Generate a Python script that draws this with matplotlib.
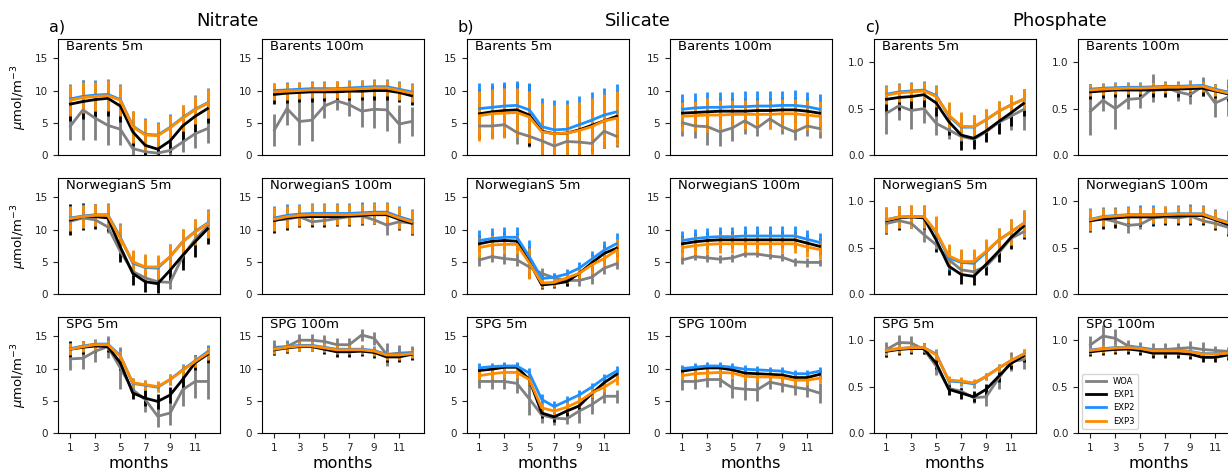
import matplotlib
matplotlib.use('Agg')
import matplotlib.pyplot as plt
from matplotlib.lines import Line2D
import numpy as np

months = np.arange(1, 13)

# ---------------- Nitrate ----------------
nit_bar5_woa = [4.5, 7.0, 5.7, 4.6, 4.0, 1.0, 0.5, 0.3, 0.7, 2.0, 3.3, 4.1]
nit_bar5_woa_sd = [2.2, 4.6, 3.4, 3.0, 2.5, 1.0, 0.5, 0.5, 0.8, 1.6, 2.2, 2.2]
nit_bar5_exp1 = [7.9, 8.3, 8.6, 8.8, 7.6, 3.6, 1.5, 0.9, 2.2, 4.5, 6.0, 7.2]
nit_bar5_exp1_sd = [2.6, 2.7, 2.7, 2.8, 2.5, 2.2, 1.5, 1.2, 1.8, 2.3, 2.5, 2.3]
nit_bar5_exp2 = [8.7, 9.1, 9.3, 9.4, 8.6, 4.5, 3.2, 3.1, 4.3, 5.8, 7.1, 8.1]
nit_bar5_exp2_sd = [2.3, 2.5, 2.4, 2.4, 2.4, 2.4, 2.6, 2.0, 2.0, 2.0, 2.2, 2.3]
nit_bar5_exp3 = [8.5, 8.9, 9.1, 9.2, 8.5, 4.4, 3.1, 3.0, 4.2, 5.7, 7.0, 8.0]
nit_bar5_exp3_sd = [2.4, 2.4, 2.3, 2.4, 2.4, 2.5, 2.5, 2.0, 2.0, 2.0, 2.2, 2.3]

nit_bar100_woa = [3.9, 7.2, 5.2, 5.4, 7.6, 8.4, 7.8, 6.8, 7.1, 7.0, 4.8, 5.2]
nit_bar100_woa_sd = [2.5, 2.6, 3.6, 3.3, 1.8, 1.4, 1.8, 2.5, 2.9, 3.3, 3.0, 2.3]
nit_bar100_exp1 = [9.4, 9.6, 9.7, 9.8, 9.8, 9.8, 9.9, 9.9, 10.0, 10.0, 9.7, 9.2]
nit_bar100_exp1_sd = [1.5, 1.5, 1.5, 1.5, 1.4, 1.4, 1.4, 1.4, 1.4, 1.4, 1.5, 1.5]
nit_bar100_exp2 = [10.0, 10.1, 10.2, 10.3, 10.3, 10.3, 10.4, 10.5, 10.6, 10.6, 10.2, 9.8]
nit_bar100_exp2_sd = [1.2, 1.2, 1.2, 1.2, 1.2, 1.2, 1.2, 1.2, 1.2, 1.2, 1.3, 1.3]
nit_bar100_exp3 = [9.8, 9.9, 10.0, 10.1, 10.1, 10.2, 10.2, 10.3, 10.4, 10.4, 10.0, 9.6]
nit_bar100_exp3_sd = [1.3, 1.3, 1.3, 1.3, 1.3, 1.3, 1.3, 1.3, 1.3, 1.3, 1.4, 1.4]

nit_nor5_woa = [11.3, 11.8, 11.5, 10.4, 6.6, 3.5, 2.5, 1.9, 1.8, 5.8, 8.5, 10.5]
nit_nor5_woa_sd = [0.8, 0.8, 0.8, 0.9, 1.2, 0.9, 0.8, 0.8, 1.0, 1.0, 0.9, 0.8]
nit_nor5_exp1 = [11.5, 12.0, 12.0, 11.8, 7.3, 3.2, 1.9, 1.6, 3.7, 6.0, 8.1, 10.1]
nit_nor5_exp1_sd = [2.4, 2.1, 1.9, 2.0, 2.3, 1.8, 1.6, 1.5, 1.9, 2.2, 2.3, 2.3]
nit_nor5_exp2 = [11.8, 12.1, 12.3, 12.3, 8.8, 4.8, 4.1, 4.0, 5.8, 8.1, 9.7, 11.0]
nit_nor5_exp2_sd = [1.9, 1.8, 1.7, 1.8, 2.2, 1.9, 2.0, 1.8, 1.9, 2.0, 2.0, 2.2]
nit_nor5_exp3 = [11.7, 12.0, 12.2, 12.2, 8.6, 5.0, 4.2, 4.2, 5.8, 8.1, 9.6, 10.9]
nit_nor5_exp3_sd = [1.9, 1.8, 1.7, 1.8, 2.2, 1.9, 2.0, 1.8, 1.9, 2.0, 2.0, 2.2]

nit_nor100_woa = [11.5, 11.6, 12.0, 11.2, 11.4, 11.7, 12.0, 12.1, 11.5, 10.7, 11.2, 11.0]
nit_nor100_woa_sd = [0.6, 0.6, 0.6, 0.7, 0.6, 0.5, 0.5, 0.5, 0.6, 1.5, 0.7, 0.6]
nit_nor100_exp1 = [11.4, 11.8, 12.0, 12.0, 12.0, 12.0, 12.1, 12.2, 12.3, 12.3, 11.6, 11.0]
nit_nor100_exp1_sd = [2.0, 1.8, 1.6, 1.6, 1.6, 1.5, 1.5, 1.5, 1.5, 1.5, 1.7, 1.8]
nit_nor100_exp2 = [11.8, 12.2, 12.4, 12.5, 12.5, 12.5, 12.5, 12.6, 12.7, 12.7, 12.0, 11.4]
nit_nor100_exp2_sd = [1.8, 1.7, 1.6, 1.6, 1.6, 1.6, 1.6, 1.6, 1.6, 1.6, 1.7, 1.8]
nit_nor100_exp3 = [11.6, 12.0, 12.2, 12.3, 12.3, 12.3, 12.3, 12.4, 12.5, 12.5, 11.8, 11.2]
nit_nor100_exp3_sd = [1.9, 1.7, 1.6, 1.6, 1.6, 1.6, 1.6, 1.6, 1.6, 1.6, 1.7, 1.9]

nit_spg5_woa = [11.5, 11.6, 12.7, 13.4, 10.1, 6.7, 5.2, 2.6, 3.1, 6.7, 8.0, 8.0]
nit_spg5_woa_sd = [1.7, 1.7, 1.7, 1.7, 3.2, 1.0, 2.0, 1.7, 1.8, 2.5, 2.5, 2.8]
nit_spg5_exp1 = [13.0, 13.3, 13.5, 13.4, 10.9, 6.2, 5.4, 4.9, 5.9, 8.3, 10.9, 12.2]
nit_spg5_exp1_sd = [1.2, 1.0, 0.9, 0.9, 1.2, 1.0, 1.2, 1.2, 1.3, 1.3, 1.2, 1.3]
nit_spg5_exp2 = [13.1, 13.5, 13.8, 13.8, 12.0, 7.7, 7.4, 7.1, 8.3, 9.8, 11.2, 12.6]
nit_spg5_exp2_sd = [0.9, 0.8, 0.8, 0.8, 0.9, 0.8, 0.8, 0.8, 0.9, 0.9, 0.9, 1.0]
nit_spg5_exp3 = [13.0, 13.4, 13.7, 13.7, 11.9, 7.8, 7.5, 7.2, 8.3, 9.7, 11.1, 12.4]
nit_spg5_exp3_sd = [0.9, 0.8, 0.8, 0.8, 0.9, 0.8, 0.8, 0.8, 0.9, 0.9, 0.9, 1.0]

nit_spg100_woa = [13.3, 13.4, 14.4, 14.4, 14.2, 13.7, 13.7, 15.2, 14.7, 12.2, 12.4, 12.5]
nit_spg100_woa_sd = [1.2, 1.0, 1.0, 1.0, 1.0, 1.0, 1.0, 1.0, 1.0, 1.8, 1.2, 1.0]
nit_spg100_exp1 = [12.9, 13.2, 13.4, 13.4, 13.0, 12.6, 12.6, 12.7, 12.5, 11.8, 11.8, 12.2]
nit_spg100_exp1_sd = [0.8, 0.8, 0.7, 0.7, 0.7, 0.8, 0.8, 0.8, 0.8, 0.8, 0.8, 0.8]
nit_spg100_exp2 = [13.1, 13.4, 13.6, 13.6, 13.3, 13.0, 13.0, 13.0, 12.8, 12.2, 12.2, 12.4]
nit_spg100_exp2_sd = [0.7, 0.7, 0.7, 0.7, 0.7, 0.7, 0.7, 0.7, 0.7, 0.7, 0.7, 0.7]
nit_spg100_exp3 = [13.0, 13.3, 13.5, 13.5, 13.2, 12.9, 12.9, 12.9, 12.7, 12.1, 12.1, 12.3]
nit_spg100_exp3_sd = [0.7, 0.7, 0.7, 0.7, 0.7, 0.7, 0.7, 0.7, 0.7, 0.7, 0.7, 0.7]

# ---------------- Silicate ----------------
sil_bar5_woa = [4.5, 4.5, 4.7, 3.5, 2.9, 2.2, 1.4, 2.1, 2.0, 1.8, 3.7, 2.9]
sil_bar5_woa_sd = [1.5, 1.5, 1.5, 1.8, 1.6, 1.2, 1.0, 1.2, 1.2, 1.2, 1.5, 1.6]
sil_bar5_exp1 = [6.4, 6.7, 6.9, 7.0, 6.2, 3.7, 3.3, 3.4, 3.9, 4.6, 5.3, 6.0]
sil_bar5_exp1_sd = [3.9, 4.0, 4.1, 4.1, 4.8, 4.0, 3.6, 3.6, 4.0, 4.2, 4.2, 4.1]
sil_bar5_exp2 = [7.2, 7.4, 7.6, 7.7, 7.0, 4.4, 3.9, 4.0, 4.7, 5.4, 6.2, 6.7]
sil_bar5_exp2_sd = [3.9, 3.8, 3.8, 3.8, 4.2, 4.5, 4.6, 4.6, 4.4, 4.3, 4.2, 4.3]
sil_bar5_exp3 = [6.1, 6.4, 6.5, 6.6, 5.9, 3.6, 3.3, 3.4, 3.8, 4.4, 5.3, 5.7]
sil_bar5_exp3_sd = [3.9, 3.9, 3.9, 3.8, 4.1, 4.5, 4.5, 4.5, 4.4, 4.4, 4.2, 4.2]

sil_bar100_woa = [5.0, 4.5, 4.4, 3.6, 4.2, 5.3, 4.2, 5.6, 4.4, 3.6, 4.5, 4.1]
sil_bar100_woa_sd = [2.0, 1.8, 2.8, 2.2, 2.0, 2.0, 1.2, 1.6, 1.2, 1.2, 1.5, 1.5]
sil_bar100_exp1 = [6.5, 6.6, 6.7, 6.8, 6.8, 6.8, 6.9, 6.9, 7.0, 7.0, 6.8, 6.5]
sil_bar100_exp1_sd = [2.0, 2.0, 2.0, 2.0, 2.0, 2.0, 2.0, 2.0, 2.0, 2.0, 2.0, 2.0]
sil_bar100_exp2 = [7.1, 7.3, 7.4, 7.4, 7.5, 7.5, 7.6, 7.6, 7.7, 7.7, 7.5, 7.1]
sil_bar100_exp2_sd = [2.3, 2.3, 2.4, 2.4, 2.3, 2.4, 2.3, 2.3, 2.3, 2.4, 2.3, 2.4]
sil_bar100_exp3 = [6.0, 6.1, 6.2, 6.2, 6.3, 6.3, 6.3, 6.3, 6.4, 6.4, 6.2, 6.0]
sil_bar100_exp3_sd = [2.3, 2.3, 2.6, 2.3, 2.3, 2.3, 2.3, 2.3, 2.3, 2.3, 2.3, 2.4]

sil_nor5_woa = [5.3, 5.8, 5.5, 5.3, 4.2, 3.2, 2.5, 2.1, 2.1, 2.6, 4.0, 4.7]
sil_nor5_woa_sd = [0.9, 0.8, 0.9, 1.0, 1.0, 0.9, 0.8, 0.8, 0.9, 1.0, 0.9, 0.8]
sil_nor5_exp1 = [7.8, 8.2, 8.3, 8.2, 5.0, 1.4, 1.6, 1.9, 3.2, 4.8, 6.3, 7.1]
sil_nor5_exp1_sd = [1.3, 1.3, 1.3, 1.3, 2.5, 0.6, 0.6, 0.7, 1.0, 1.3, 1.3, 1.4]
sil_nor5_exp2 = [8.3, 8.6, 8.8, 8.8, 5.8, 2.4, 2.6, 3.1, 4.0, 5.4, 6.8, 7.8]
sil_nor5_exp2_sd = [1.6, 1.6, 1.6, 1.6, 2.6, 0.7, 0.7, 0.8, 1.0, 1.2, 1.5, 1.6]
sil_nor5_exp3 = [7.2, 7.6, 7.7, 7.7, 4.8, 1.7, 1.8, 2.5, 3.2, 4.5, 5.5, 6.8]
sil_nor5_exp3_sd = [1.5, 1.5, 1.5, 1.5, 2.4, 0.7, 0.7, 0.8, 1.0, 1.4, 1.6, 1.8]

sil_nor100_woa = [5.3, 5.8, 5.6, 5.4, 5.6, 6.2, 6.2, 5.9, 5.7, 5.0, 4.9, 4.9]
sil_nor100_woa_sd = [0.6, 0.6, 0.6, 0.6, 0.6, 0.5, 0.5, 0.5, 0.6, 0.6, 0.7, 0.6]
sil_nor100_exp1 = [7.8, 8.1, 8.3, 8.4, 8.4, 8.4, 8.4, 8.4, 8.4, 8.4, 7.9, 7.4]
sil_nor100_exp1_sd = [1.3, 1.3, 1.3, 1.3, 1.3, 1.3, 1.3, 1.3, 1.3, 1.3, 1.3, 1.3]
sil_nor100_exp2 = [8.3, 8.6, 8.8, 8.9, 8.9, 9.0, 9.0, 9.0, 9.0, 9.0, 8.5, 8.0]
sil_nor100_exp2_sd = [1.5, 1.5, 1.5, 1.5, 1.5, 1.5, 1.5, 1.5, 1.5, 1.5, 1.5, 1.5]
sil_nor100_exp3 = [7.2, 7.5, 7.7, 7.8, 7.8, 7.8, 7.8, 7.8, 7.8, 7.8, 7.3, 6.9]
sil_nor100_exp3_sd = [1.5, 1.5, 1.5, 1.5, 1.5, 1.5, 1.5, 1.5, 1.5, 1.5, 1.5, 1.5]

sil_spg5_woa = [8.0, 8.0, 8.0, 7.7, 5.3, 2.8, 2.3, 2.2, 3.4, 4.4, 5.7, 5.7]
sil_spg5_woa_sd = [1.0, 1.2, 1.2, 1.5, 2.5, 1.2, 1.0, 0.8, 1.8, 1.5, 1.0, 1.0]
sil_spg5_exp1 = [9.7, 9.9, 10.2, 10.2, 8.3, 3.1, 2.5, 3.4, 4.2, 6.1, 7.8, 9.1]
sil_spg5_exp1_sd = [0.6, 0.6, 0.6, 0.6, 0.8, 0.8, 0.8, 0.7, 0.7, 0.7, 0.7, 0.7]
sil_spg5_exp2 = [10.1, 10.3, 10.4, 10.4, 9.3, 5.2, 4.1, 5.0, 5.9, 7.1, 8.5, 9.6]
sil_spg5_exp2_sd = [0.7, 0.6, 0.6, 0.6, 0.8, 0.8, 0.8, 0.7, 0.7, 0.7, 0.7, 0.8]
sil_spg5_exp3 = [8.9, 9.2, 9.4, 9.4, 8.3, 3.9, 3.4, 4.0, 4.9, 6.2, 7.1, 8.3]
sil_spg5_exp3_sd = [0.8, 0.8, 0.8, 0.8, 0.8, 0.8, 0.8, 0.8, 0.8, 0.8, 0.8, 0.8]

sil_spg100_woa = [8.0, 8.0, 8.3, 8.3, 7.0, 6.8, 6.7, 7.9, 7.5, 7.1, 6.8, 6.2]
sil_spg100_woa_sd = [1.3, 1.2, 1.1, 1.1, 1.5, 1.7, 1.7, 1.0, 1.2, 1.2, 1.2, 1.5]
sil_spg100_exp1 = [9.6, 9.9, 10.1, 10.1, 9.8, 9.3, 9.2, 9.1, 9.0, 8.6, 8.6, 9.1]
sil_spg100_exp1_sd = [0.6, 0.6, 0.6, 0.6, 0.6, 0.6, 0.6, 0.6, 0.6, 0.6, 0.6, 0.6]
sil_spg100_exp2 = [10.0, 10.2, 10.4, 10.4, 10.2, 9.9, 9.8, 9.7, 9.6, 9.2, 9.2, 9.6]
sil_spg100_exp2_sd = [0.6, 0.6, 0.6, 0.6, 0.6, 0.6, 0.6, 0.6, 0.6, 0.6, 0.6, 0.7]
sil_spg100_exp3 = [8.9, 9.2, 9.3, 9.4, 9.3, 8.8, 8.7, 8.7, 8.6, 8.2, 8.2, 8.5]
sil_spg100_exp3_sd = [0.8, 0.8, 0.8, 0.8, 0.8, 0.8, 0.8, 0.8, 0.8, 0.8, 0.8, 0.8]

# ---------------- Phosphate ----------------
pho_bar5_woa = [0.45, 0.53, 0.48, 0.50, 0.34, 0.27, 0.20, 0.17, 0.25, 0.35, 0.42, 0.49]
pho_bar5_woa_sd = [0.22, 0.15, 0.20, 0.15, 0.12, 0.10, 0.08, 0.06, 0.10, 0.10, 0.15, 0.22]
pho_bar5_exp1 = [0.60, 0.62, 0.63, 0.65, 0.56, 0.36, 0.215, 0.18, 0.26, 0.36, 0.455, 0.555]
pho_bar5_exp1_sd = [0.13, 0.13, 0.13, 0.13, 0.14, 0.14, 0.16, 0.12, 0.12, 0.13, 0.14, 0.14]
pho_bar5_exp2 = [0.655, 0.68, 0.69, 0.70, 0.64, 0.42, 0.30, 0.30, 0.38, 0.47, 0.54, 0.60]
pho_bar5_exp2_sd = [0.10, 0.10, 0.10, 0.10, 0.11, 0.14, 0.15, 0.13, 0.12, 0.11, 0.11, 0.11]
pho_bar5_exp3 = [0.645, 0.67, 0.68, 0.69, 0.63, 0.43, 0.31, 0.305, 0.38, 0.47, 0.54, 0.60]
pho_bar5_exp3_sd = [0.10, 0.10, 0.10, 0.10, 0.11, 0.14, 0.15, 0.13, 0.12, 0.11, 0.11, 0.11]

pho_bar100_woa = [0.47, 0.59, 0.50, 0.60, 0.61, 0.72, 0.73, 0.68, 0.65, 0.74, 0.56, 0.62]
pho_bar100_woa_sd = [0.25, 0.12, 0.22, 0.10, 0.10, 0.15, 0.06, 0.10, 0.10, 0.10, 0.15, 0.20]
pho_bar100_exp1 = [0.68, 0.69, 0.70, 0.70, 0.70, 0.70, 0.705, 0.71, 0.715, 0.72, 0.69, 0.66]
pho_bar100_exp1_sd = [0.08, 0.08, 0.08, 0.08, 0.08, 0.08, 0.08, 0.08, 0.08, 0.08, 0.08, 0.08]
pho_bar100_exp2 = [0.71, 0.72, 0.725, 0.73, 0.73, 0.735, 0.74, 0.74, 0.745, 0.75, 0.71, 0.68]
pho_bar100_exp2_sd = [0.06, 0.06, 0.06, 0.06, 0.06, 0.06, 0.06, 0.06, 0.06, 0.06, 0.06, 0.06]
pho_bar100_exp3 = [0.70, 0.71, 0.715, 0.72, 0.72, 0.725, 0.73, 0.73, 0.735, 0.74, 0.70, 0.67]
pho_bar100_exp3_sd = [0.06, 0.06, 0.06, 0.06, 0.06, 0.06, 0.06, 0.06, 0.06, 0.06, 0.06, 0.06]

pho_nor5_woa = [0.76, 0.79, 0.76, 0.64, 0.53, 0.37, 0.26, 0.24, 0.30, 0.44, 0.60, 0.67]
pho_nor5_woa_sd = [0.04, 0.04, 0.04, 0.08, 0.05, 0.04, 0.04, 0.04, 0.04, 0.04, 0.04, 0.04]
pho_nor5_exp1 = [0.79, 0.82, 0.83, 0.82, 0.58, 0.30, 0.21, 0.19, 0.32, 0.46, 0.61, 0.73]
pho_nor5_exp1_sd = [0.14, 0.13, 0.12, 0.12, 0.13, 0.10, 0.10, 0.09, 0.12, 0.12, 0.13, 0.14]
pho_nor5_exp2 = [0.80, 0.83, 0.835, 0.835, 0.66, 0.39, 0.34, 0.33, 0.45, 0.58, 0.67, 0.76]
pho_nor5_exp2_sd = [0.14, 0.12, 0.12, 0.12, 0.17, 0.13, 0.13, 0.13, 0.13, 0.13, 0.14, 0.15]
pho_nor5_exp3 = [0.80, 0.83, 0.835, 0.835, 0.67, 0.41, 0.35, 0.35, 0.46, 0.58, 0.67, 0.76]
pho_nor5_exp3_sd = [0.14, 0.12, 0.12, 0.12, 0.17, 0.13, 0.13, 0.13, 0.13, 0.13, 0.14, 0.15]

pho_nor100_woa = [0.79, 0.81, 0.78, 0.74, 0.75, 0.82, 0.83, 0.82, 0.84, 0.79, 0.76, 0.72]
pho_nor100_woa_sd = [0.04, 0.04, 0.04, 0.08, 0.05, 0.04, 0.04, 0.04, 0.04, 0.04, 0.04, 0.04]
pho_nor100_exp1 = [0.79, 0.81, 0.82, 0.83, 0.83, 0.83, 0.84, 0.84, 0.845, 0.845, 0.80, 0.75]
pho_nor100_exp1_sd = [0.12, 0.11, 0.11, 0.10, 0.10, 0.10, 0.10, 0.10, 0.10, 0.10, 0.11, 0.12]
pho_nor100_exp2 = [0.805, 0.835, 0.845, 0.855, 0.855, 0.855, 0.86, 0.865, 0.865, 0.865, 0.815, 0.775]
pho_nor100_exp2_sd = [0.12, 0.10, 0.09, 0.09, 0.10, 0.10, 0.09, 0.09, 0.10, 0.09, 0.10, 0.12]
pho_nor100_exp3 = [0.80, 0.83, 0.84, 0.85, 0.85, 0.85, 0.855, 0.86, 0.86, 0.86, 0.81, 0.77]
pho_nor100_exp3_sd = [0.12, 0.10, 0.09, 0.09, 0.09, 0.09, 0.09, 0.09, 0.09, 0.09, 0.10, 0.12]

pho_spg5_woa = [0.90, 0.975, 0.97, 0.90, 0.72, 0.48, 0.45, 0.38, 0.39, 0.59, 0.77, 0.79]
pho_spg5_woa_sd = [0.08, 0.08, 0.07, 0.05, 0.10, 0.06, 0.05, 0.06, 0.10, 0.12, 0.10, 0.10]
pho_spg5_exp1 = [0.88, 0.90, 0.91, 0.91, 0.75, 0.47, 0.43, 0.39, 0.47, 0.61, 0.75, 0.83]
pho_spg5_exp1_sd = [0.06, 0.06, 0.06, 0.06, 0.06, 0.06, 0.06, 0.06, 0.06, 0.06, 0.06, 0.06]
pho_spg5_exp2 = [0.89, 0.91, 0.92, 0.92, 0.85, 0.56, 0.55, 0.53, 0.61, 0.70, 0.78, 0.85]
pho_spg5_exp2_sd = [0.05, 0.05, 0.05, 0.05, 0.05, 0.04, 0.04, 0.04, 0.04, 0.04, 0.05, 0.05]
pho_spg5_exp3 = [0.89, 0.91, 0.92, 0.92, 0.84, 0.57, 0.56, 0.54, 0.61, 0.70, 0.78, 0.85]
pho_spg5_exp3_sd = [0.05, 0.05, 0.05, 0.05, 0.05, 0.04, 0.04, 0.04, 0.04, 0.04, 0.05, 0.05]

pho_spg100_woa = [0.95, 1.045, 1.02, 0.94, 0.92, 0.90, 0.90, 0.91, 0.92, 0.90, 0.89, 0.88]
pho_spg100_woa_sd = [0.10, 0.12, 0.10, 0.06, 0.06, 0.07, 0.07, 0.06, 0.07, 0.08, 0.05, 0.05]
pho_spg100_exp1 = [0.875, 0.89, 0.90, 0.905, 0.89, 0.86, 0.86, 0.86, 0.85, 0.815, 0.815, 0.84]
pho_spg100_exp1_sd = [0.05, 0.05, 0.05, 0.05, 0.05, 0.05, 0.05, 0.05, 0.05, 0.05, 0.05, 0.05]
pho_spg100_exp2 = [0.895, 0.91, 0.92, 0.925, 0.915, 0.89, 0.89, 0.89, 0.88, 0.855, 0.855, 0.865]
pho_spg100_exp2_sd = [0.04, 0.04, 0.04, 0.04, 0.04, 0.04, 0.04, 0.04, 0.04, 0.04, 0.04, 0.04]
pho_spg100_exp3 = [0.89, 0.905, 0.915, 0.92, 0.91, 0.885, 0.885, 0.885, 0.875, 0.85, 0.85, 0.86]
pho_spg100_exp3_sd = [0.04, 0.04, 0.04, 0.04, 0.04, 0.04, 0.04, 0.04, 0.04, 0.04, 0.04, 0.04]

series_names = ['WOA', 'EXP1', 'EXP2', 'EXP3']
series_colors = ['grey', 'black', 'dodgerblue', 'darkorange']
regions = ['Barents', 'NorwegianS', 'SPG']
depths = ['5m', '100m']
variables = ['Nitrate', 'Silicate', 'Phosphate']
var_letters = ['a)', 'b)', 'c)']

# panels[variable][region][depth] -> list of (mean, sd) for the four series
panels = [
    [
        [[(nit_bar5_woa, nit_bar5_woa_sd), (nit_bar5_exp1, nit_bar5_exp1_sd),
          (nit_bar5_exp2, nit_bar5_exp2_sd), (nit_bar5_exp3, nit_bar5_exp3_sd)],
         [(nit_bar100_woa, nit_bar100_woa_sd), (nit_bar100_exp1, nit_bar100_exp1_sd),
          (nit_bar100_exp2, nit_bar100_exp2_sd), (nit_bar100_exp3, nit_bar100_exp3_sd)]],
        [[(nit_nor5_woa, nit_nor5_woa_sd), (nit_nor5_exp1, nit_nor5_exp1_sd),
          (nit_nor5_exp2, nit_nor5_exp2_sd), (nit_nor5_exp3, nit_nor5_exp3_sd)],
         [(nit_nor100_woa, nit_nor100_woa_sd), (nit_nor100_exp1, nit_nor100_exp1_sd),
          (nit_nor100_exp2, nit_nor100_exp2_sd), (nit_nor100_exp3, nit_nor100_exp3_sd)]],
        [[(nit_spg5_woa, nit_spg5_woa_sd), (nit_spg5_exp1, nit_spg5_exp1_sd),
          (nit_spg5_exp2, nit_spg5_exp2_sd), (nit_spg5_exp3, nit_spg5_exp3_sd)],
         [(nit_spg100_woa, nit_spg100_woa_sd), (nit_spg100_exp1, nit_spg100_exp1_sd),
          (nit_spg100_exp2, nit_spg100_exp2_sd), (nit_spg100_exp3, nit_spg100_exp3_sd)]],
    ],
    [
        [[(sil_bar5_woa, sil_bar5_woa_sd), (sil_bar5_exp1, sil_bar5_exp1_sd),
          (sil_bar5_exp2, sil_bar5_exp2_sd), (sil_bar5_exp3, sil_bar5_exp3_sd)],
         [(sil_bar100_woa, sil_bar100_woa_sd), (sil_bar100_exp1, sil_bar100_exp1_sd),
          (sil_bar100_exp2, sil_bar100_exp2_sd), (sil_bar100_exp3, sil_bar100_exp3_sd)]],
        [[(sil_nor5_woa, sil_nor5_woa_sd), (sil_nor5_exp1, sil_nor5_exp1_sd),
          (sil_nor5_exp2, sil_nor5_exp2_sd), (sil_nor5_exp3, sil_nor5_exp3_sd)],
         [(sil_nor100_woa, sil_nor100_woa_sd), (sil_nor100_exp1, sil_nor100_exp1_sd),
          (sil_nor100_exp2, sil_nor100_exp2_sd), (sil_nor100_exp3, sil_nor100_exp3_sd)]],
        [[(sil_spg5_woa, sil_spg5_woa_sd), (sil_spg5_exp1, sil_spg5_exp1_sd),
          (sil_spg5_exp2, sil_spg5_exp2_sd), (sil_spg5_exp3, sil_spg5_exp3_sd)],
         [(sil_spg100_woa, sil_spg100_woa_sd), (sil_spg100_exp1, sil_spg100_exp1_sd),
          (sil_spg100_exp2, sil_spg100_exp2_sd), (sil_spg100_exp3, sil_spg100_exp3_sd)]],
    ],
    [
        [[(pho_bar5_woa, pho_bar5_woa_sd), (pho_bar5_exp1, pho_bar5_exp1_sd),
          (pho_bar5_exp2, pho_bar5_exp2_sd), (pho_bar5_exp3, pho_bar5_exp3_sd)],
         [(pho_bar100_woa, pho_bar100_woa_sd), (pho_bar100_exp1, pho_bar100_exp1_sd),
          (pho_bar100_exp2, pho_bar100_exp2_sd), (pho_bar100_exp3, pho_bar100_exp3_sd)]],
        [[(pho_nor5_woa, pho_nor5_woa_sd), (pho_nor5_exp1, pho_nor5_exp1_sd),
          (pho_nor5_exp2, pho_nor5_exp2_sd), (pho_nor5_exp3, pho_nor5_exp3_sd)],
         [(pho_nor100_woa, pho_nor100_woa_sd), (pho_nor100_exp1, pho_nor100_exp1_sd),
          (pho_nor100_exp2, pho_nor100_exp2_sd), (pho_nor100_exp3, pho_nor100_exp3_sd)]],
        [[(pho_spg5_woa, pho_spg5_woa_sd), (pho_spg5_exp1, pho_spg5_exp1_sd),
          (pho_spg5_exp2, pho_spg5_exp2_sd), (pho_spg5_exp3, pho_spg5_exp3_sd)],
         [(pho_spg100_woa, pho_spg100_woa_sd), (pho_spg100_exp1, pho_spg100_exp1_sd),
          (pho_spg100_exp2, pho_spg100_exp2_sd), (pho_spg100_exp3, pho_spg100_exp3_sd)]],
    ],
]

# layout in pixels (figure is 1228 x 470, last column runs off the right edge)
W, H = 1228, 470
col_left = [58, 262, 467, 670, 874, 1078]
row_bottom = [155, 294, 433]
ax_w, ax_h = 162, 116

fig = plt.figure(figsize=(W / 100, H / 100), dpi=100)

for v in range(3):
    for r in range(3):
        for d in range(2):
            c = 2 * v + d
            ax = fig.add_axes([col_left[c] / W, (H - row_bottom[r]) / H, ax_w / W, ax_h / H])
            for s in range(4):
                mean, sd = panels[v][r][d][s]
                ax.errorbar(months, mean, yerr=sd, color=series_colors[s],
                            lw=2, elinewidth=2, capsize=0)
            ax.set_xlim(0, 13)
            if v == 2:
                ax.set_ylim(0, 1.25)
                ax.set_yticks([0.0, 0.5, 1.0])
            else:
                ax.set_ylim(0, 18)
                ax.set_yticks([0, 5, 10, 15])
            ax.tick_params(labelsize=7.5, colors='#222222')
            ax.text(0.05, 0.995, regions[r] + ' ' + depths[d], transform=ax.transAxes,
                    fontsize=9.5, va='top', ha='left')
            if r == 2:
                ax.set_xticks([1, 3, 5, 7, 9, 11])
                ax.set_xlabel('months', fontsize=11.5, labelpad=2)
            else:
                ax.set_xticks([])
            if c == 0:
                ax.set_ylabel(r'$\mu$mol/m$^{-3}$', fontsize=9.5)
            if v == 2 and r == 2 and d == 1:
                handles = [Line2D([], [], color=series_colors[s], lw=2) for s in range(4)]
                ax.legend(handles, series_names, loc='lower left', fontsize=6,
                          handlelength=2.5)

title_x = [227, 638, 1060]
letter_x = [57, 466, 873]
for v in range(3):
    fig.text(title_x[v] / W, 1 - 21 / H, variables[v], fontsize=13, ha='center', va='center')
    fig.text(letter_x[v] / W, 1 - 27 / H, var_letters[v], fontsize=11.5, ha='center', va='center')

fig.savefig('out.png', dpi=100)
